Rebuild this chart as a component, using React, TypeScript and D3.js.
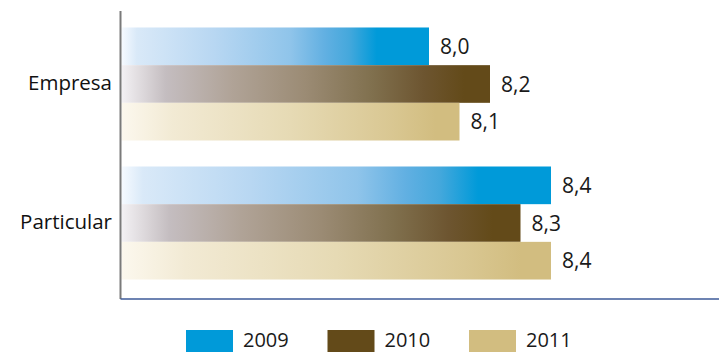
import React from "react";
import * as d3 from "d3";

const categories = ["Empresa", "Particular"];
const years = ["2009", "2010", "2011"];
const values2009 = [8.0, 8.4];
const values2010 = [8.2, 8.3];
const values2011 = [8.1, 8.4];
const seriesValues = [values2009, values2010, values2011];
const colors = ["#009ad9", "#634a19", "#d2bd80"];
const gradientStops = [
  [
    [0, "#f6faff"], [0.05, "#d9e9f8"], [0.3, "#b8d7f2"], [0.55, "#8fc4ea"],
    [0.66, "#62b0e2"], [0.74, "#45a8dc"], [0.83, "#009ad9"], [1, "#009ad9"],
  ],
  [
    [0, "#f3f1f4"], [0.12, "#c4bdc0"], [0.3, "#b0a397"], [0.5, "#9b8b74"],
    [0.68, "#80704e"], [0.82, "#6d5530"], [0.93, "#634a19"], [1, "#634a19"],
  ],
  [
    [0, "#fcf8ee"], [0.15, "#f2ead4"], [0.5, "#e6dab4"], [0.8, "#d9c792"],
    [0.93, "#d2bd80"], [1, "#d2bd80"],
  ],
];

const W = 719;
const H = 352;
const axisX = 120.5;
const axisTop = 11;
const axisBottom = 299;
const font = "'Open Sans', 'Noto Sans', sans-serif";

export default function App() {
  const x = d3.scaleLinear().domain([7, 9]).range([124, 734]);
  const y = d3
    .scaleBand<string>()
    .domain(categories)
    .range([14, 293])
    .paddingInner(0.187)
    .paddingOuter(0.097);
  const ySub = d3.scaleBand<string>().domain(years).range([0, y.bandwidth()]);
  const legendX = d3.scalePoint<string>().domain(years).range([186, 469]);
  const barLeft = axisX + 1;
  const fmt = (v: number) => v.toFixed(1).replace(".", ",");

  return (
    <svg
      width={W}
      height={H}
      style={{ position: "absolute", left: 0, top: 0, background: "#fff" }}
    >
      <defs>
        {years.map((yr, i) => (
          <linearGradient key={yr} id={`g${yr}`} x1="0" x2="1" y1="0" y2="0">
            {gradientStops[i].map(([o, c], j) => (
              <stop key={j} offset={o as number} stopColor={c as string} />
            ))}
          </linearGradient>
        ))}
      </defs>
      {categories.map((cat, ci) => (
        <g key={cat}>
          {years.map((yr, si) => {
            const v = seriesValues[si][ci];
            const by = (y(cat) as number) + (ySub(yr) as number);
            const bh = ySub.bandwidth();
            return (
              <g key={yr}>
                <rect
                  x={barLeft}
                  y={by}
                  width={x(v) - barLeft}
                  height={bh}
                  fill={`url(#g${yr})`}
                />
                <text
                  x={x(v) + 11}
                  y={by + bh / 2}
                  dy="0.36em"
                  fontFamily={font}
                  fontSize={21}
                  fill="#1a1a1a"
                >
                  {fmt(v)}
                </text>
              </g>
            );
          })}
          <text
            x={112}
            y={(y(cat) as number) + y.bandwidth() / 2}
            dy="0.3em"
            textAnchor="end"
            fontFamily={font}
            fontSize={20.5}
            fill="#111"
          >
            {cat}
          </text>
        </g>
      ))}
      <line
        x1={axisX}
        x2={axisX}
        y1={axisTop}
        y2={axisBottom}
        stroke="#7a7a7a"
        strokeWidth={2}
      />
      <line
        x1={axisX}
        x2={W}
        y1={axisBottom}
        y2={axisBottom}
        stroke="#3d5a98"
        strokeWidth={1.5}
      />
      {years.map((yr, i) => (
        <g key={yr} transform={`translate(${legendX(yr)},330)`}>
          <rect x={0} y={0} width={47} height={24} fill={colors[i]} />
          <text x={57} y={17} fontFamily={font} fontSize={20} fill="#1a1a1a">
            {yr}
          </text>
        </g>
      ))}
    </svg>
  );
}
